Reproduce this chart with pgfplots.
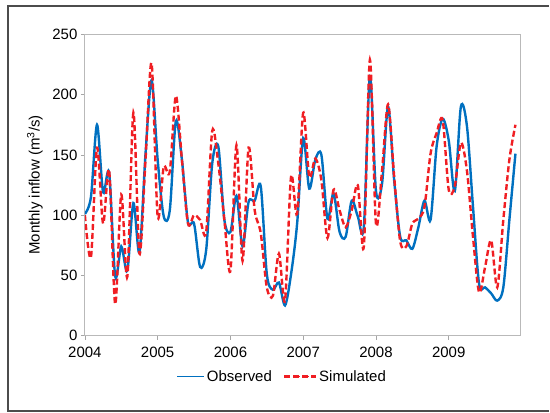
\documentclass[border=0pt]{standalone}
\usepackage{fontspec}
\setmainfont{Liberation Sans}
\usepackage{pgfplots}
\pgfplotsset{compat=1.18}
\definecolor{obsblue}{RGB}{0,112,192}
\definecolor{simred}{RGB}{240,30,35}
\begin{document}
\begin{tikzpicture}
\path (0pt,0pt) rectangle (550pt,413pt);
\draw[line width=1.5pt, black!70] (550pt,1.5pt) -- (8pt,1.5pt) -- (8pt,407pt) -- (550pt,407pt);
\begin{axis}[
  at={(85pt,77pt)}, anchor=south west,
  scale only axis, width=436pt, height=301.5pt,
  xmin=0, xmax=71.8, ymin=0, ymax=250,
  xtick={0,12,24,36,48,60},
  xticklabels={2004,2005,2006,2007,2008,2009},
  ytick={0,50,100,150,200,250},
  xtick pos=left, ytick pos=left,
  tick align=outside, major tick length=4pt,
  tick style={gray!70, line width=0.6pt},
  axis line style={gray!55, line width=0.8pt},
  /pgf/number format/assume math mode=true,
  tick label style={font=\fontsize{15}{18}\selectfont},
  xticklabel style={yshift=-4pt},
  label style={font=\fontsize{15}{18}\selectfont},
  ylabel={Monthly inflow (m\textsuperscript{3}/s)},
  ylabel style={at={(axis description cs:-0.115,0.5)}, anchor=center},
  legend style={draw=none, fill=none, at={(axis description cs:0.453,-0.136)}, anchor=center,
    font=\fontsize{15}{18}\selectfont, legend columns=2,
    /tikz/every even column/.append style={column sep=9pt},
    nodes={inner xsep=2pt}},
]
\addplot[obsblue, line width=2.4pt, smooth, tension=0.5,
  legend image code/.code={\draw[obsblue, line width=1.6pt, solid] (0pt,0pt) -- (27pt,0pt);}] coordinates {
(0,101)(1,115)(2,175)(3,119)(4,135)(5,49)(6,74)(7,54)(8,110)(9,69)(10,151)(11,212)
(12,146)(13,99)(14,104)(15,178)(16,146)(17,94)(18,93)(19,57)(20,71)(21,143)(22,157)(23,96)
(24,86)(25,116)(26,74)(27,111)(28,112)(29,124)(30,51)(31,38)(32,44)(33,25)(34,51)(35,93)
(36,164)(37,122)(38,146)(39,150)(40,97)(41,118)(42,86)(43,82)(44,112)(45,99)(46,90)(47,215)
(48,120)(49,126)(50,190)(51,129)(52,82)(53,79)(54,72)(55,90)(56,112)(57,96)(58,157)(59,180)
(60,162)(61,120)(62,190)(63,174)(64,107)(65,43)(66,40)(67,35)(68,29)(69,40)(70,96)(71,151)
};
\addlegendentry{Observed}
\addplot[simred, line width=2.4pt, smooth, tension=0.5, dash pattern=on 6pt off 3pt,
  legend image code/.code={\draw[simred, line width=1.5pt, dash pattern=on 6pt off 3.5pt] (0pt,0pt) -- (25pt,0pt); \path (0pt,0pt) -- (32pt,0pt);}] coordinates {
(0,100)(1,65)(2,156)(3,93)(4,137)(5,26)(6,117)(7,49)(8,185)(9,68)(10,146)(11,226)
(12,99)(13,140)(14,136)(15,199)(16,146)(17,93)(18,100)(19,96)(20,86)(21,170)(22,143)(23,96)
(24,54)(25,158)(26,62)(27,156)(28,104)(29,85)(30,40)(31,33)(32,68)(33,29)(34,132)(35,101)
(36,185)(37,132)(38,147)(39,129)(40,81)(41,121)(42,104)(43,90)(44,104)(45,125)(46,74)(47,229)
(48,93)(49,137)(50,192)(51,132)(52,78)(53,74)(54,93)(55,97)(56,107)(57,151)(58,168)(59,179)
(60,121)(61,124)(62,160)(63,137)(64,82)(65,36)(66,57)(67,79)(68,40)(69,96)(70,146)(71,175)
};
\addlegendentry{Simulated}
\end{axis}
\end{tikzpicture}
\end{document}
